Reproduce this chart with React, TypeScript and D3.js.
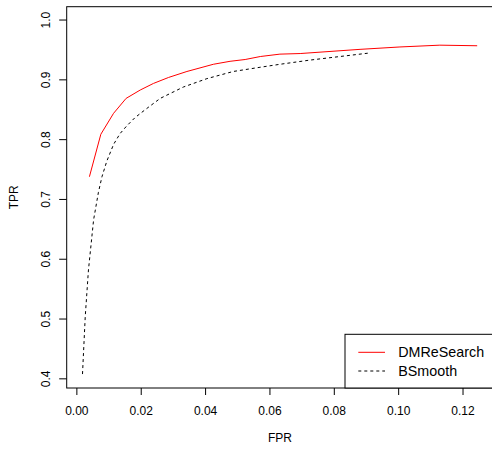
import React from "react";
import * as d3 from "d3";

const dmrFPR = [0.0039, 0.00745, 0.0114, 0.0153, 0.0197, 0.0238, 0.0285, 0.0342, 0.0424, 0.0476, 0.0523, 0.057, 0.0631, 0.0694, 0.088, 0.1004, 0.1128, 0.1244];
const dmrTPR = [0.738, 0.809, 0.844, 0.869, 0.883, 0.894, 0.904, 0.914, 0.926, 0.931, 0.934, 0.939, 0.943, 0.944, 0.951, 0.955, 0.958, 0.957];

const bsFPR = [0.00175, 0.0026, 0.0036, 0.0052, 0.0067, 0.0078, 0.0093, 0.0114, 0.0134, 0.0155, 0.0181, 0.0217, 0.0259, 0.0331, 0.0404, 0.0486, 0.0569, 0.0631, 0.0724, 0.0911];
const bsTPR = [0.408, 0.504, 0.582, 0.666, 0.712, 0.738, 0.764, 0.792, 0.81, 0.823, 0.837, 0.852, 0.869, 0.888, 0.902, 0.914, 0.921, 0.926, 0.933, 0.945];

const xTicks = [0, 0.02, 0.04, 0.06, 0.08, 0.1, 0.12];
const yTicks = [0.4, 0.5, 0.6, 0.7, 0.8, 0.9, 1.0];
const seriesNames = ["DMReSearch", "BSmooth"];

const W = 492, H = 453;
const L = 66.7, R = 493.3, T = 6.7, B = 388;

export default function App() {
  const xlo = 0.00175, xhi = 0.1245;
  const xpad = (xhi - xlo) * 0.04;
  const ylo = 0.4083, yhi = 0.9987;
  const ypad = (yhi - ylo) * 0.04;
  const x = d3.scaleLinear().domain([xlo - xpad, xhi + xpad]).range([L, R]);
  const y = d3.scaleLinear().domain([ylo - ypad, yhi + ypad]).range([B, T]);
  const line = d3.line<[number, number]>().x((d) => x(d[0])).y((d) => y(d[1]));
  const dmr = dmrFPR.map((v, i) => [v, dmrTPR[i]] as [number, number]);
  const bs = bsFPR.map((v, i) => [v, bsTPR[i]] as [number, number]);
  const font = "Liberation Sans, Arial, Helvetica, sans-serif";
  const lgL = 345, lgT = 334.3;
  return (
    <svg width={W} height={H} style={{ position: "absolute", left: 0, top: 0, background: "#fff" }} fontFamily={font}>
      <rect x={0} y={0} width={W} height={H} fill="#fff" />
      <path d={line(dmr) || ""} fill="none" stroke="#ff0000" strokeWidth={1} />
      <path d={line(bs) || ""} fill="none" stroke="#000" strokeWidth={1} strokeDasharray="3,3" />
      <rect x={L} y={T} width={R - L} height={B - T} fill="none" stroke="#000" strokeWidth={1} />
      {xTicks.map((t) => (
        <g key={"x" + t}>
          <line x1={x(t)} x2={x(t)} y1={B} y2={B + 7} stroke="#000" />
          <text x={x(t)} y={415} fontSize={12} textAnchor="middle" fill="#000">{t.toFixed(2)}</text>
        </g>
      ))}
      {yTicks.map((t) => (
        <g key={"y" + t}>
          <line x1={L - 7.5} x2={L} y1={y(t)} y2={y(t)} stroke="#000" />
          <text transform={`translate(50,${y(t)}) rotate(-90)`} fontSize={12} textAnchor="middle" fill="#000">{t.toFixed(1)}</text>
        </g>
      ))}
      <text x={(L + R) / 2} y={442} fontSize={12} textAnchor="middle" fill="#000">FPR</text>
      <text transform={`translate(18.3,${(T + B) / 2}) rotate(-90)`} fontSize={12} textAnchor="middle" fill="#000">TPR</text>
      <rect x={lgL} y={lgT} width={R - lgL} height={B - lgT} fill="#fff" stroke="#000" strokeWidth={1} />
      <line x1={358.3} x2={385} y1={352.3} y2={352.3} stroke="#ff0000" />
      <line x1={358.3} x2={385} y1={371} y2={371} stroke="#000" strokeDasharray="3,3" />
      <text x={398.3} y={357.3} fontSize={14.3} fill="#000">{seriesNames[0]}</text>
      <text x={398.3} y={376} fontSize={14.3} fill="#000">{seriesNames[1]}</text>
    </svg>
  );
}
